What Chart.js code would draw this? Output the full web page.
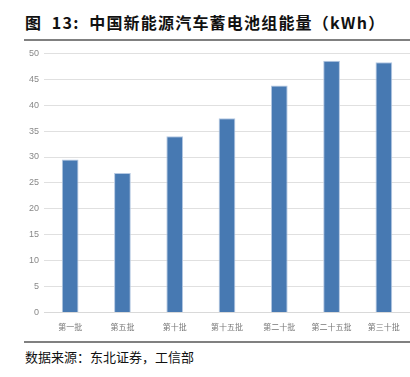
<!DOCTYPE html>
<html>
<head>
<meta charset="utf-8">
<script src="https://cdn.jsdelivr.net/npm/chart.js@4/dist/chart.umd.min.js"></script>
<style>
  body { margin: 0; background: #fff; width: 410px; height: 377px; position: relative; overflow: hidden; }
  #title { position: absolute; left: 25px; top: 10px; font-family: "Noto Sans CJK SC", sans-serif; font-weight: 700; font-size: 16px; color: #111; letter-spacing: 1.2px; white-space: nowrap; }
  #topline { position: absolute; left: 24px; top: 39px; width: 386px; height: 2px; background: #808080; }
  #bottomline { position: absolute; left: 24px; top: 341px; width: 386px; height: 2px; background: #808080; }
  #source { position: absolute; left: 25px; top: 347px; font-family: "Noto Sans CJK SC", sans-serif; font-size: 13px; color: #111; white-space: nowrap; }
  #wrap { position: absolute; left: 0; top: 43px; width: 410px; height: 291px; }
</style>
</head>
<body>
<div id="title">图&nbsp; 13:&nbsp; 中国新能源汽车蓄电池组能量（kWh）</div>
<div id="topline"></div>
<div id="wrap"><canvas id="chart"></canvas></div>
<div id="bottomline"></div>
<div id="source">数据来源：东北证券，工信部</div>
<script>
// batches and average battery pack energy
const batches = ['第一批', '第五批', '第十批', '第十五批', '第二十批', '第二十五批', '第三十批'];
const energy = [29.5, 26.9, 34.0, 37.5, 43.8, 48.6, 48.3];

const ctx = document.getElementById('chart');
new Chart(ctx, {
    type: 'bar',
    data: {
        labels: batches,
        datasets: [{
            data: energy,
            backgroundColor: '#4779b2',
            borderColor: '#b4c8e2',
            borderWidth: 1,
            categoryPercentage: 1,
            barPercentage: 0.32
        }]
    },
    options: {
        responsive: true,
        maintainAspectRatio: false,
        animation: false,
        layout: { padding: { top: 2, right: 0, left: 24, bottom: 0 } },
        plugins: { legend: { display: false }, tooltip: { enabled: false } },
        scales: {
            x: {
                grid: { display: false },
                border: { color: '#d9d9d9' },
                ticks: { color: '#777', font: { family: 'Noto Sans CJK SC', size: 8 }, maxRotation: 0, padding: 2 }
            },
            y: {
                min: 0,
                max: 50,
                ticks: { stepSize: 5, color: '#888', font: { family: 'Liberation Sans', size: 9 }, padding: 5 },
                grid: { color: '#e0e0e0', tickLength: 0 },
                border: { display: false }
            }
        }
    }
});
</script>
</body>
</html>
